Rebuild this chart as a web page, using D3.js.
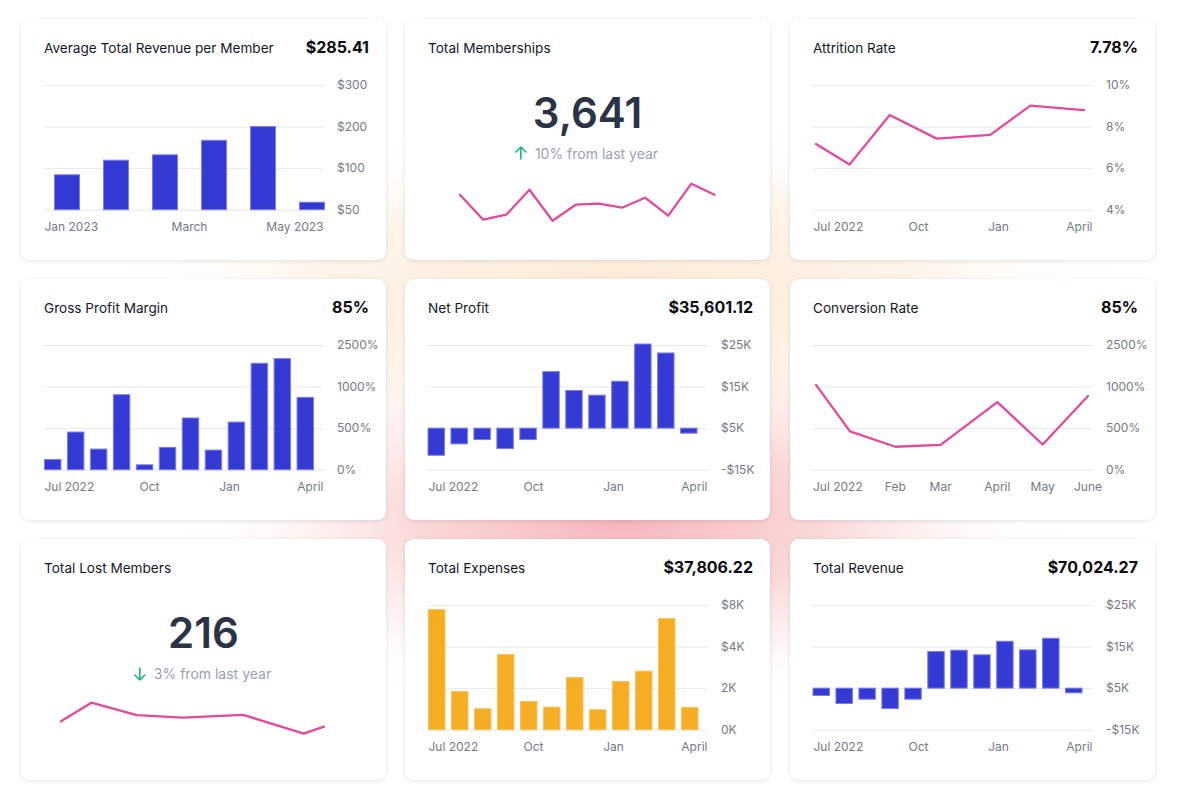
<!DOCTYPE html>
<html>
<head>
<meta charset="utf-8">
<script src="https://cdn.jsdelivr.net/npm/d3@7"></script>
<style>
  html, body { margin: 0; padding: 0; background: #fff; }
  svg { display: block; font-family: Inter, "Noto Sans", sans-serif; }
</style>
</head>
<body>
<svg id="dash"></svg>
<script>
// ---- data ----
// Average Total Revenue per Member
const arpmValues = [92, 119, 132, 167, 200, 59];
const arpmTicks = [50, 100, 200, 300];
const arpmTickLabels = ["$50", "$100", "$200", "$300"];
const arpmXLabels = ["Jan 2023", "March", "May 2023"];

// Total Memberships sparkline
const memberValues = [326, 301, 306, 331, 300, 316, 317, 313, 323, 305, 337, 326];

// Attrition Rate
const attritionWeeks = [0, 5, 11, 18, 26, 32, 40];
const attritionValues = [7.16, 6.17, 8.56, 7.42, 7.6, 9.01, 8.79];
const attritionTicks = [4, 6, 8, 10];
const attritionTickLabels = ["4%", "6%", "8%", "10%"];

// Gross Profit Margin
const grossValues = [122, 453, 248, 902, 59, 268, 622, 236, 573, 1840, 2008, 870];
const pctTicks = [0, 500, 1000, 2500];
const pctTickLabels = ["0%", "500%", "1000%", "2500%"];

// Net Profit
const netValues = [-8065, -2581, -484, -4839, -484, 18600, 14048, 12937, 16280, 25240, 23080, 2581];
const kTicks = [-15000, 5000, 15000, 25000];
const kTickLabels = ["-$15K", "$5K", "$15K", "$25K"];
const profitBaseline = 5000;

// Conversion Rate
const conversionWeeks = [0, 3, 7, 11, 16, 20, 24];
const conversionValues = [1060, 461, 276, 299, 813, 303, 886];
const conversionLabels = ["Jul 2022", "", "Feb", "Mar", "April", "May", "June"];

// Total Lost Members sparkline
const lostWeeks = [0, 6, 15, 24, 36, 48, 52];
const lostValues = [14, 20, 16, 15.2, 16.1, 10, 12.3];

// Total Expenses
const expenseValues = [7552, 1840, 1008, 3616, 1360, 1088, 2512, 960, 2320, 2816, 6688, 1072];
const expenseTicks = [0, 2000, 4000, 8000];
const expenseTickLabels = ["0K", "2K", "$4K", "$8K"];

// Total Revenue
const revenueValues = [1452, -2419, -323, -4839, -323, 13810, 14127, 13016, 16280, 14206, 17000, 2742];

const monthLabels = ["Jul 2022", "Oct", "Jan", "April"];

// ---- layout ----
const W = 1182, H = 812;
const cardW = 365, cardH = 241;
const colX = [21, 405, 790], rowY = [19, 279, 539];
const plot = {left: 23, right: 302, top: 66, bottom: 190.7};

const blue = "#3034d4", blueEdge = "#7b7ee6";
const orange = "#f5aa1c", orangeEdge = "#f8c35e";
const pink = "#e4489b";
const axisGrey = "#737985";

const svg = d3.select("#dash").attr("width", W).attr("height", H);
const defs = svg.append("defs");

// soft background glows
function glow(id, stops) {
  const gr = defs.append("radialGradient").attr("id", id);
  stops.forEach(s => gr.append("stop").attr("offset", s[0]).attr("stop-color", s[1]).attr("stop-opacity", s[2]));
}
glow("peach", [["0%", "#fce8d2", 1], ["60%", "#fdf0e2", 0.7], ["100%", "#ffffff", 0]]);
glow("rose", [["0%", "#f5b3bd", 1], ["45%", "#f8c8c8", 0.7], ["100%", "#ffffff", 0]]);

svg.append("ellipse").attr("cx", 620).attr("cy", 300).attr("rx", 520).attr("ry", 190).attr("fill", "url(#peach)");
svg.append("ellipse").attr("cx", 620).attr("cy", 520).attr("rx", 460).attr("ry", 200).attr("fill", "url(#rose)");

const shadow = defs.append("filter").attr("id", "shadow")
  .attr("x", "-10%").attr("y", "-10%").attr("width", "120%").attr("height", "125%");
shadow.append("feDropShadow").attr("dx", 0).attr("dy", 1).attr("stdDeviation", 2.2)
  .attr("flood-color", "#000").attr("flood-opacity", 0.11);

function card(col, row, title, value) {
  const g = svg.append("g").attr("transform", `translate(${colX[col]},${rowY[row]})`);
  g.append("rect").attr("width", cardW).attr("height", cardH).attr("rx", 9)
    .attr("fill", "#fff").attr("filter", "url(#shadow)");
  g.append("text").attr("x", 23).attr("y", 34).attr("font-size", 13.6)
    .attr("fill", "#111827").text(title);
  if (value) {
    g.append("text").attr("x", 348).attr("y", 34).attr("text-anchor", "end")
      .attr("font-size", 16).attr("font-weight", 700).attr("fill", "#0b0b10").text(value);
  }
  return g;
}

// y scale with evenly spaced gridlines (the picture's axes are not linear)
function gridScale(ticks) {
  const step = (plot.bottom - plot.top) / (ticks.length - 1);
  return d3.scaleLinear().domain(ticks).range(ticks.map((t, i) => plot.bottom - i * step));
}

function yAxis(g, y, ticks, labels) {
  const ax = g.append("g").attr("transform", `translate(${plot.right},0)`)
    .call(d3.axisRight(y).tickValues(ticks).tickFormat((d, i) => labels[i])
      .tickSize(-(plot.right - plot.left)).tickPadding(14));
  ax.attr("font-family", null);
  ax.select(".domain").remove();
  ax.selectAll("line").attr("stroke", "#e6e8ec");
  ax.selectAll("text").attr("font-size", 12).attr("fill", axisGrey);
}

// month labels: first and last hug the plot edges, the rest are centred
function xLabels(g, labels) {
  const x = d3.scalePoint().domain(labels).range([plot.left + 25, plot.right - 14]);
  const ax = g.append("g").attr("transform", `translate(0,${plot.bottom})`)
    .call(d3.axisBottom(x).tickSize(0).tickPadding(13));
  ax.attr("font-family", null);
  ax.select(".domain").remove();
  const n = labels.length;
  ax.selectAll(".tick text")
    .attr("font-size", 12).attr("fill", axisGrey)
    .attr("text-anchor", (d, i) => i === 0 ? "start" : i === n - 1 ? "end" : "middle")
    .attr("x", (d, i) => i === 0 ? plot.left - x(d) : i === n - 1 ? plot.right - x(d) : 0);
}

function bars(g, vals, ticks, labels, opt) {
  const y = gridScale(ticks);
  yAxis(g, y, ticks, labels);
  const x = d3.scaleBand().domain(d3.range(vals.length)).range(opt.range).paddingInner(opt.pad);
  const base = opt.base !== undefined ? opt.base : ticks[0];
  g.append("g").selectAll("rect").data(vals).join("rect")
    .attr("x", (d, i) => x(i) + 0.5)
    .attr("width", x.bandwidth() - 1)
    .attr("y", d => y(Math.max(d, base)))
    .attr("height", d => Math.abs(y(d) - y(base)))
    .attr("fill", opt.color || blue)
    .attr("fill-opacity", 0.97)
    .attr("stroke", opt.edge || blueEdge)
    .attr("stroke-width", 1);
}

function line(g, xs, vals, x, y) {
  g.append("path")
    .datum(vals)
    .attr("fill", "none")
    .attr("stroke", pink)
    .attr("stroke-width", 2.3)
    .attr("stroke-linejoin", "round")
    .attr("stroke-linecap", "round")
    .attr("d", d3.line().x((d, i) => x(xs[i])).y(d => y(d)));
}

function kpi(g, big, pct, up) {
  g.append("text").attr("x", cardW / 2).attr("y", 109).attr("text-anchor", "middle")
    .attr("font-size", 42).attr("font-weight", 600).attr("fill", "#2b3446").text(big);
  const row = g.append("g");
  const t = row.append("text").attr("x", 20).attr("y", 140).attr("font-size", 14)
    .attr("fill", "#98a1b3").text(pct + " from last year");
  // small arrow
  const a = row.append("g").attr("transform", `translate(6,${up ? 134 : 135})`)
    .attr("stroke", "#14b485").attr("stroke-width", 1.6).attr("fill", "none")
    .attr("stroke-linecap", "round").attr("stroke-linejoin", "round");
  if (up) {
    a.append("path").attr("d", "M0,-6 L0,6 M-5,-1 L0,-6 L5,-1");
  } else {
    a.append("path").attr("d", "M0,-6 L0,6 M-5,1 L0,6 L5,1");
  }
  const w = 20 + t.node().getComputedTextLength();
  row.attr("transform", `translate(${cardW / 2 - w / 2 - 1},0)`);
}

// ---- cards ----
{
  const g = card(0, 0, "Average Total Revenue per Member", "$285.41");
  bars(g, arpmValues, arpmTicks, arpmTickLabels, {range: [33, 304], pad: 0.47});
  xLabels(g, arpmXLabels);
}
{
  const g = card(1, 0, "Total Memberships");
  kpi(g, "3,641", "10%", true);
  const x = d3.scaleLinear().domain([0, memberValues.length - 1]).range([55, 309.5]);
  const y = d3.scaleLinear().domain(d3.extent(memberValues)).range([201.7, 164.7]);
  line(g, d3.range(memberValues.length), memberValues, x, y);
}
{
  const g = card(2, 0, "Attrition Rate", "7.78%");
  const y = d3.scaleLinear().domain([4, 10]).range([plot.bottom, plot.top]);
  yAxis(g, y, attritionTicks, attritionTickLabels);
  const x = d3.scaleLinear().domain(d3.extent(attritionWeeks)).range([26, 294]);
  line(g, attritionWeeks, attritionValues, x, y);
  xLabels(g, monthLabels);
}
{
  const g = card(0, 1, "Gross Profit Margin", "85%");
  bars(g, grossValues, pctTicks, pctTickLabels, {range: [23, 293], pad: 0.24});
  xLabels(g, monthLabels);
}
{
  const g = card(1, 1, "Net Profit", "$35,601.12");
  bars(g, netValues, kTicks, kTickLabels, {range: [22.5, 292.5], pad: 0.24, base: profitBaseline});
  xLabels(g, monthLabels);
}
{
  const g = card(2, 1, "Conversion Rate", "85%");
  const y = gridScale(pctTicks);
  yAxis(g, y, pctTicks, pctTickLabels);
  const x = d3.scaleLinear().domain(d3.extent(conversionWeeks)).range([26, 298]);
  line(g, conversionWeeks, conversionValues, x, y);
  g.append("g").selectAll("text").data(conversionLabels).join("text")
    .attr("x", (d, i) => i === 0 ? plot.left : x(conversionWeeks[i]))
    .attr("y", 212)
    .attr("text-anchor", (d, i) => i === 0 ? "start" : "middle")
    .attr("font-size", 12).attr("fill", axisGrey)
    .text(d => d);
}
{
  const g = card(0, 2, "Total Lost Members");
  kpi(g, "216", "3%", false);
  const x = d3.scaleLinear().domain(d3.extent(lostWeeks)).range([40, 303]);
  const y = d3.scaleLinear().domain(d3.extent(lostValues)).range([194.7, 163.7]);
  line(g, lostWeeks, lostValues, x, y);
}
{
  const g = card(1, 2, "Total Expenses", "$37,806.22");
  bars(g, expenseValues, expenseTicks, expenseTickLabels,
    {range: [23, 293.5], pad: 0.24, color: orange, edge: orangeEdge});
  xLabels(g, monthLabels);
}
{
  const g = card(2, 2, "Total Revenue", "$70,024.27");
  bars(g, revenueValues, kTicks, kTickLabels, {range: [22.5, 292.5], pad: 0.24, base: profitBaseline});
  xLabels(g, monthLabels);
}
</script>
</body>
</html>
